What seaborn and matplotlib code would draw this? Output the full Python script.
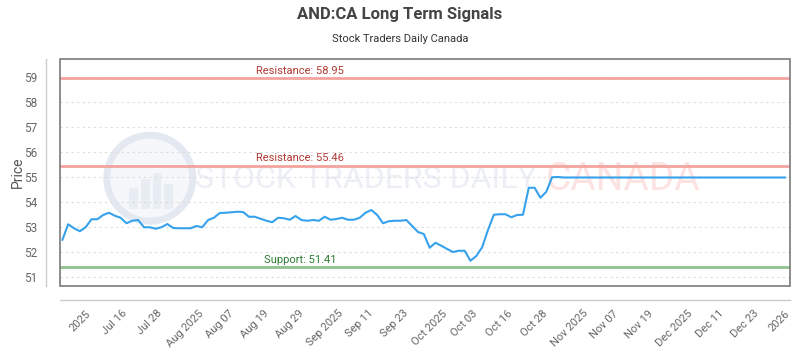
import matplotlib
matplotlib.use("Agg")
import matplotlib.pyplot as plt
import seaborn as sns
import pandas as pd
from matplotlib.patches import Ellipse, Rectangle

title = "AND:CA Long Term Signals"
subtitle = "Stock Traders Daily Canada"

price = [
    52.48, 53.11, 52.95, 52.83, 52.99, 53.31, 53.31, 53.48, 53.57, 53.45,
    53.37, 53.15, 53.25, 53.28, 52.99, 52.99, 52.93, 52.99, 53.12, 52.96,
    52.95, 52.95, 52.95, 53.04, 52.99, 53.28, 53.37, 53.56, 53.57, 53.59,
    53.61, 53.60, 53.41, 53.41, 53.33, 53.25, 53.19, 53.37, 53.35, 53.29,
    53.44, 53.28, 53.25, 53.28, 53.25, 53.41, 53.29, 53.32, 53.37, 53.29,
    53.29, 53.37, 53.57, 53.68, 53.48, 53.15, 53.23, 53.25, 53.25, 53.28,
    53.04, 52.80, 52.72, 52.17, 52.37, 52.25, 52.12, 52.00, 52.05, 52.05,
    51.65, 51.84, 52.19, 52.88, 53.49, 53.51, 53.51, 53.39, 53.48, 53.49,
    54.57, 54.57, 54.17, 54.41, 54.99, 55.00, 54.98, 54.98, 54.98, 54.98,
    54.98, 54.98, 54.98, 54.98, 54.98, 54.98, 54.98, 54.98, 54.98, 54.98,
    54.98, 54.98, 54.98, 54.98, 54.98, 54.98, 54.98, 54.98, 54.98, 54.98,
    54.98, 54.98, 54.98, 54.98, 54.98, 54.98, 54.98, 54.98, 54.98, 54.98,
    54.98, 54.98, 54.98, 54.98, 54.98,
]

tick_labels = ["2025", "Jul 16", "Jul 28", "Aug 2025", "Aug 07", "Aug 19",
               "Aug 29", "Sep 2025", "Sep 11", "Sep 23", "Oct 2025", "Oct 03",
               "Oct 16", "Oct 28", "Nov 2025", "Nov 07", "Nov 19", "Dec 2025",
               "Dec 11", "Dec 23", "2026"]
tick_index = [3, 9, 15, 21, 27, 33, 39, 45, 51, 57, 63, 69, 75, 81, 87, 93,
              99, 105, 111, 117, 123]

levels = [58.95, 55.46, 51.41]
level_names = ["Resistance", "Resistance", "Support"]
y_ticks = [51, 52, 53, 54, 55, 56, 57, 58, 59]

sns.set_theme(style="white")
plt.rcParams['font.family'] = ['Roboto', 'DejaVu Sans']

fig = plt.figure(figsize=(8, 3.5), dpi=100)
ax = fig.add_axes([60 / 800, 64 / 350, 730 / 800, 227 / 350])

df = pd.DataFrame({"idx": range(len(price)), "price": price})

# watermark
ax.add_patch(Ellipse((0.123, 0.475), 86 / 730, 86 / 227, transform=ax.transAxes,
                     facecolor="#f5f7fa", edgecolor="#e4e9f1", lw=5, zorder=0))
for bx, bh in [(0.095, 0.09), (0.111, 0.13), (0.127, 0.16), (0.143, 0.11)]:
    ax.add_patch(Rectangle((bx, 0.34), 0.012, bh, transform=ax.transAxes,
                           facecolor="#e8ecf3", edgecolor="none", zorder=0))
ax.text(0.419, 0.47, "STOCK TRADERS DAILY", transform=ax.transAxes,
        ha="center", va="center", fontsize=23, color="#eceff5", zorder=0)
ax.text(0.772, 0.47, "CANADA", transform=ax.transAxes, ha="center",
        va="center", fontsize=28, color="#fde2e2", zorder=0)

sns.lineplot(data=df, x="idx", y="price", ax=ax, color="#36a2eb",
             linewidth=1.5, zorder=3)

for lv, nm in zip(levels, level_names):
    if nm == "Support":
        lc, tc = "#8fc28f", "#2e7d32"
    else:
        lc, tc = "#f3a49e", "#b23a34"
    ax.axhline(lv, color=lc, lw=2, zorder=2)
    ax.annotate(f"{nm}: {lv:.2f}", xy=(0.329, lv),
                xycoords=ax.get_yaxis_transform(), xytext=(0, 1.5),
                textcoords="offset points", ha="center", va="bottom",
                fontsize=8, color=tc, zorder=4)

ax.set_xlim(-0.4, 124.8)
ax.set_ylim(50.64, 59.72)
ax.set_yticks(y_ticks)
ax.set_xticks(tick_index)
ax.set_xticklabels(tick_labels)
ax.tick_params(axis="x", length=0, pad=6, labelsize=8, labelcolor="#666666",
               labelrotation=45)
ax.tick_params(axis="y", length=0, pad=6, labelsize=8.5, labelcolor="#666666")
for lab in ax.get_xticklabels():
    lab.set_horizontalalignment("right")
    lab.set_rotation_mode("anchor")
    lab.set_family(["Open Sans", "DejaVu Sans"])
for lab in ax.get_yticklabels():
    lab.set_family(["Open Sans", "DejaVu Sans"])

ax.yaxis.grid(True, linestyle=(0, (2, 3)), color="#dddddd", lw=0.8)
ax.xaxis.grid(False)
ax.set_xlabel("")
ax.set_ylabel("Price", fontsize=10, color="#555555", labelpad=0)

for side in ["top", "right"]:
    ax.spines[side].set_visible(False)
for side in ["left", "bottom"]:
    ax.spines[side].set_position(("outward", 10))
    ax.spines[side].set_color("#cccccc")
    ax.spines[side].set_linewidth(1)
ax.add_patch(Rectangle((0, 0), 1, 1, transform=ax.transAxes, fill=False,
                       edgecolor="#7a7a7a", lw=1.2, clip_on=False, zorder=5))

fig.text(0.5, 1 - 15 / 350, title, ha="center", va="center", fontsize=12,
         fontweight="bold", color="#444444")
fig.text(0.5, 1 - 39 / 350, subtitle, ha="center", va="center", fontsize=8,
         color="#333333")

fig.savefig("out.png", dpi=100)
